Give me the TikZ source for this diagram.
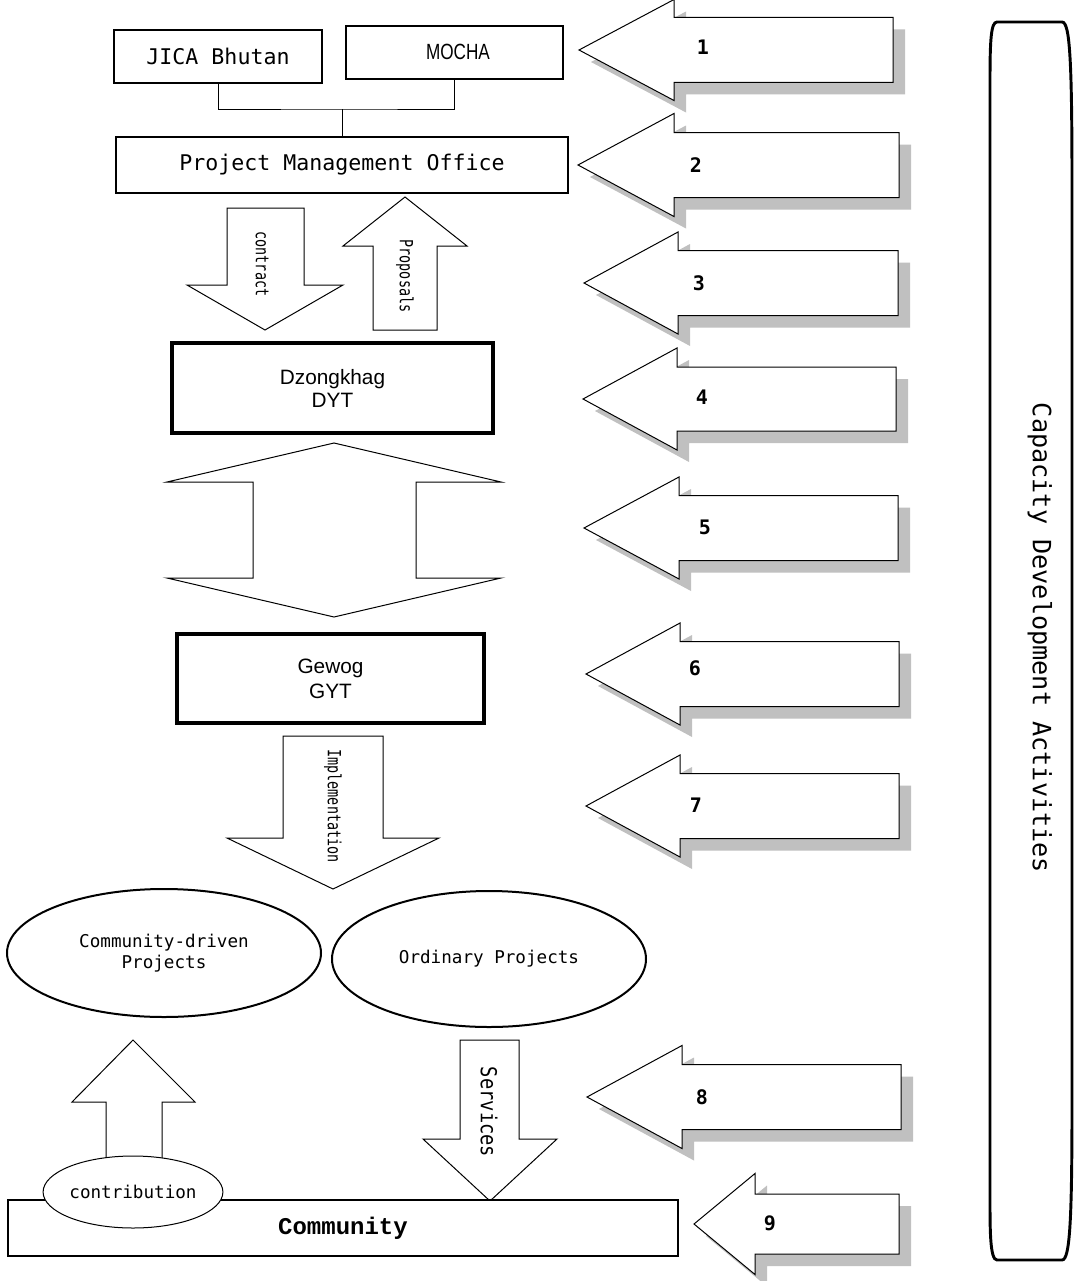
\documentclass[tikz,border=0pt]{standalone}
\usepackage{fontspec}
\setmainfont{Liberation Sans}
\newfontfamily\monof{DejaVu Sans Mono}
\newfontfamily\condmono[FakeStretch=0.74]{DejaVu Sans Mono}
\newfontfamily\svcmono[FakeStretch=0.85]{DejaVu Sans Mono}
\newfontfamily\courf{Liberation Mono}
\newfontfamily\narrowf[FakeStretch=0.78]{Liberation Sans}
\usetikzlibrary{shapes.geometric}
\definecolor{shadowgray}{HTML}{C0C0C0}
\newcommand\cdarrow[7]{%
  \fill[shadowgray, shift={(12,12)}] (#1,#2) -- (#3,#2-#4) -- (#3,#2-#5) -- (#6,#2-#5) -- (#6,#2+#5) -- (#3,#2+#5) -- (#3,#2+#4) -- cycle;
  \draw[thinline, fill=white] (#1,#2) -- (#3,#2-#4) -- (#3,#2-#5) -- (#6,#2-#5) -- (#6,#2+#5) -- (#3,#2+#5) -- (#3,#2+#4) -- cycle;
}
\begin{document}
\begin{tikzpicture}[x=0.75pt,y=-0.75pt,
  thinline/.style={draw=black, line width=0.75pt},
  box/.style={draw=black, fill=white, rectangle, inner sep=0pt, align=center},
  monolbl/.style={font=\monof\fontsize{16.2}{19}\selectfont},
  smallmono/.style={font=\condmono\fontsize{13.6}{15}\selectfont},
  ellmono/.style={font=\monof\fontsize{13.2}{15.5}\selectfont},
  numlbl/.style={font=\monof\bfseries\fontsize{15}{17}\selectfont},
  sanslbl/.style={font=\fontsize{15.6}{17.3}\selectfont}
]
\useasboundingbox (0,0) rectangle (1074,1281);
\fill[white] (0,0) rectangle (1074,1281);

% top boxes
\node[box, monolbl, line width=2pt, minimum width=208*0.75pt, minimum height=53*0.75pt] (jica) at (218,56.5) {JICA Bhutan};
\node[box, line width=2pt, minimum width=217*0.75pt, minimum height=53*0.75pt] (mocha) at (454.5,52.5) {};
\node[font=\narrowf\fontsize{16.5}{18}\selectfont] (mochatxt) at (458,52) {MOCHA};
\node[box, monolbl, line width=2pt, minimum width=452*0.75pt, minimum height=56*0.75pt] (pmo) at (342,165) {Project Management Office};
\coordinate (jn) at (342,109);
\draw[thinline] (jica.south) |- (jn) -| (mocha.south);
\draw[thinline] (jn) -- (pmo.north);

% contract / proposals
\draw[thinline, fill=white] (227,208) -- (304,208) -- (304,285) -- (343,285) -- (265,330) -- (187,285) -- (227,285) -- cycle;
\node[smallmono, rotate=-90] (contract) at (262,264) {contract};
\draw[thinline, fill=white] (405,197) -- (467,246) -- (437,246) -- (437,330) -- (373,330) -- (373,246) -- (343,246) -- cycle;
\node[smallmono, rotate=-90] (proposals) at (405,276) {Proposals};

% Dzongkhag
\node[box, sanslbl, line width=2.4pt, minimum width=321*0.75pt, minimum height=90*0.75pt] (dz) at (332.5,388) {Dzongkhag\\DYT};

% double arrow
\draw[thinline, fill=white] (334,443) -- (501,482) -- (416,482) -- (416,578) -- (501,578) -- (334,617) -- (167,578) -- (253,578) -- (253,482) -- (167,482) -- cycle;

% Gewog
\node[box, line width=3pt, minimum width=307*0.75pt, minimum height=89*0.75pt, font=\fontsize{15.6}{19}\selectfont] (gw) at (330.5,678.5) {Gewog\\GYT};

% implementation
\draw[thinline, fill=white] (283,736) -- (383,736) -- (383,838) -- (439,838) -- (333,889) -- (227,838) -- (283,838) -- cycle;
\node[smallmono, rotate=-90] (impl) at (333,806) {Implementation};

% ellipses
\node[ellipse, draw, fill=white, line width=1.5pt, inner sep=0pt, ellmono, align=center, minimum width=314*0.75pt, minimum height=128*0.75pt] (cdp) at (164,953) {Community-driven\\Projects};
\node[ellipse, draw, fill=white, line width=1.5pt, inner sep=0pt, ellmono, minimum width=314*0.75pt, minimum height=136*0.75pt] (ord) at (489,959) {Ordinary Projects};

% contribution up arrow
\draw[thinline, fill=white] (133,1040) -- (195,1102) -- (162,1102) -- (162,1170) -- (106,1170) -- (106,1102) -- (72,1102) -- cycle;

% services arrow
\draw[thinline, fill=white] (460,1040) -- (519,1040) -- (519,1139) -- (557,1139) -- (490,1201) -- (423,1139) -- (460,1139) -- cycle;
\node[font=\svcmono\fontsize{16.5}{18}\selectfont, rotate=-90] (serv) at (489,1112) {Services};

% community box
\node[box, line width=2.2pt, minimum width=670*0.75pt, minimum height=56*0.75pt, font=\courf\bfseries\fontsize{18}{20}\selectfont] (comm) at (343,1228) {Community};
\node[ellipse, draw, fill=white, thinline, inner sep=0pt, ellmono, minimum width=176*0.75pt, minimum height=72*0.75pt] (contrib) at (133,1192) {contribution};

% capacity arrows
\cdarrow{579}{50}{674}{50.5}{32.5}{893}{}
\cdarrow{578}{165}{674}{51.5}{32.5}{899}{}
\cdarrow{584}{283}{678}{51}{32.5}{898}{}
\cdarrow{583}{399}{677}{51}{32}{896}{}
\cdarrow{584}{528}{679}{51}{32.5}{898}{}
\cdarrow{586}{674}{680}{51}{32.5}{899}{}
\cdarrow{586}{806}{680}{51}{32.5}{899}{}
\cdarrow{587}{1097}{682}{51.5}{32.5}{901}{}
\cdarrow{694}{1224}{755}{50.5}{30}{899}{}
\node[numlbl] (n1) at (703,47) {1};
\node[numlbl] (n2) at (696,165) {2};
\node[numlbl] (n3) at (699,283) {3};
\node[numlbl] (n4) at (702,397) {4};
\node[numlbl] (n5) at (705,527) {5};
\node[numlbl] (n6) at (695,668) {6};
\node[numlbl] (n7) at (696,805) {7};
\node[numlbl] (n8) at (702,1097) {8};
\node[numlbl] (n9) at (770,1223) {9};

% bracket
\draw[line width=2.2pt] (997,22) -- (1062,22) .. controls (1070,22) and (1072,60) .. (1072,190) -- (1072,1100) .. controls (1072,1220) and (1070,1260) .. (1062,1260) -- (997,1260) .. controls (990,1260) and (990,1230) .. (990,1200) -- (990,80) .. controls (990,40) and (991,22) .. (997,22) -- cycle;
\node[font=\monof\fontsize{18.9}{22}\selectfont, rotate=-90] (cap) at (1040,638) {Capacity Development Activities};
\end{tikzpicture}
\end{document}
